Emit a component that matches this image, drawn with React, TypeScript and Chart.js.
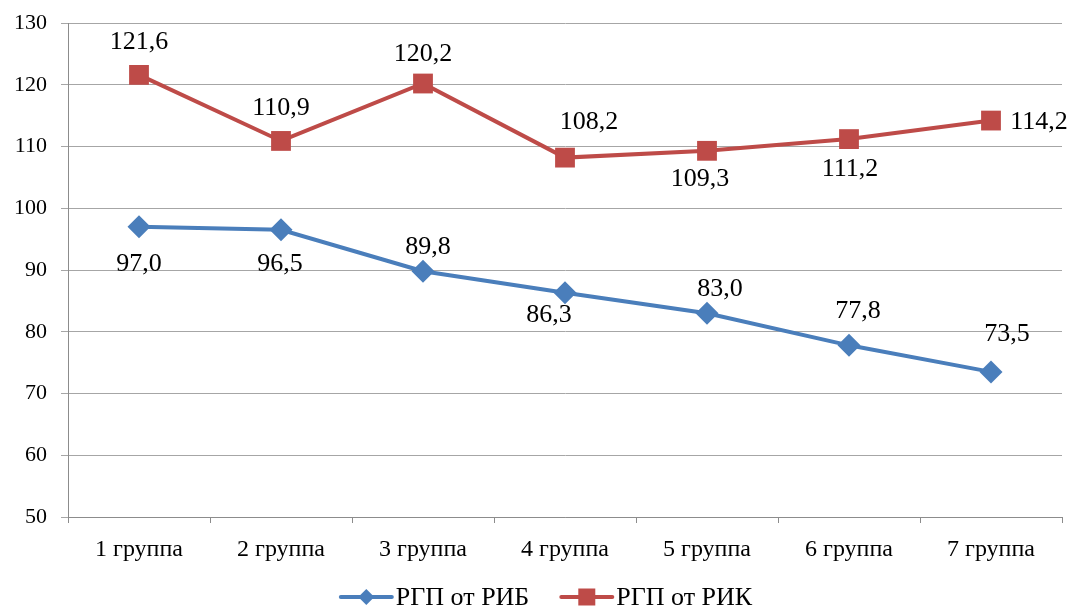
import React, { useEffect, useRef } from "react";
import { Chart, registerables } from "chart.js";

Chart.register(...registerables);

const categories = ["1 группа", "2 группа", "3 группа", "4 группа", "5 группа", "6 группа", "7 группа"];
const seriesNames = ["РГП от РИБ", "РГП от РИК"];
const ribValues = [97.0, 96.5, 89.8, 86.3, 83.0, 77.8, 73.5];
const rikValues = [121.6, 110.9, 120.2, 108.2, 109.3, 111.2, 114.2];
const yTicks = [50, 60, 70, 80, 90, 100, 110, 120, 130];

// label placement offsets (dx, dy in px from point centre)
const ribLabelOffsets = [[0, 37], [-1, 34], [5, -24], [-16, 22], [13, -24], [9, -34], [16, -38]];
const rikLabelOffsets = [[0, -33], [0, -33], [0, -29], [24, -35], [-7, 28], [1, 30], [48, 2]];

const BLUE = "#4A7EBB";
const RED = "#BE4B48";
const FONT = "'Liberation Serif', 'Times New Roman', serif";

const fmt = (v: number) => v.toFixed(1).replace(".", ",");

const labelPlugin = {
  id: "valueLabels",
  afterDatasetsDraw(chart: any) {
    const ctx = chart.ctx;
    ctx.save();
    ctx.font = `26px ${FONT}`;
    ctx.fillStyle = "#000";
    ctx.textAlign = "center";
    ctx.textBaseline = "middle";
    chart.data.datasets.forEach((ds: any, di: number) => {
      const meta = chart.getDatasetMeta(di);
      const offs = di === 0 ? ribLabelOffsets : rikLabelOffsets;
      meta.data.forEach((pt: any, i: number) => {
        const [dx, dy] = offs[i];
        ctx.fillText(fmt(ds.data[i]), pt.x + dx, pt.y + dy);
      });
    });
    ctx.restore();
  },
};

const legendPlugin = {
  id: "customLegend",
  afterDraw(chart: any) {
    const ctx = chart.ctx;
    ctx.save();
    ctx.font = `26px ${FONT}`;
    const lineW = 51;
    const gapText = 4;
    const gapItems = 32;
    const widths = seriesNames.map((n) => ctx.measureText(n).width);
    const total = widths.reduce((a, b) => a + b, 0) + seriesNames.length * (lineW + gapText) + gapItems * (seriesNames.length - 1);
    let x = chart.width / 2 + 12 - total / 2;
    const y = 597;
    seriesNames.forEach((name, i) => {
      const color = i === 0 ? BLUE : RED;
      ctx.strokeStyle = color;
      ctx.lineWidth = 4;
      ctx.lineCap = "round";
      ctx.beginPath();
      ctx.moveTo(x, y);
      ctx.lineTo(x + lineW, y);
      ctx.stroke();
      ctx.fillStyle = color;
      const cx = x + lineW / 2;
      ctx.beginPath();
      if (i === 0) {
        const r = 8;
        ctx.moveTo(cx, y - r);
        ctx.lineTo(cx + r, y);
        ctx.lineTo(cx, y + r);
        ctx.lineTo(cx - r, y);
        ctx.closePath();
      } else {
        ctx.rect(cx - 8.5, y - 8.5, 17, 17);
      }
      ctx.fill();
      ctx.fillStyle = "#000";
      ctx.textAlign = "left";
      ctx.textBaseline = "middle";
      ctx.fillText(name, x + lineW + gapText, y + 1);
      x += lineW + gapText + widths[i] + gapItems;
    });
    ctx.restore();
  },
};

export default function App() {
  const ref = useRef<HTMLCanvasElement | null>(null);
  useEffect(() => {
    document.body.style.margin = "0";
    const chart = new Chart(ref.current as HTMLCanvasElement, {
      type: "line",
      data: {
        labels: categories,
        datasets: [
          {
            label: seriesNames[0],
            data: ribValues,
            borderColor: BLUE,
            backgroundColor: BLUE,
            borderWidth: 4,
            pointStyle: "rectRot",
            pointRadius: 11.5,
            pointBorderWidth: 0,
            tension: 0,
          },
          {
            label: seriesNames[1],
            data: rikValues,
            borderColor: RED,
            backgroundColor: RED,
            borderWidth: 4,
            pointStyle: "rect",
            pointRadius: 14,
            pointBorderWidth: 0,
            tension: 0,
          },
        ],
      },
      options: {
        responsive: true,
        maintainAspectRatio: false,
        animation: false,
        layout: { autoPadding: false, padding: { top: 23, right: 7, bottom: 0, left: 0 } },
        plugins: { legend: { display: false }, tooltip: { enabled: false } },
        scales: {
          x: {
            offset: true,
            grid: { offset: true, drawOnChartArea: false, drawTicks: true, tickLength: 6, color: "#8c8c8c" },
            border: { display: true, color: "#8c8c8c", width: 1 },
            ticks: { font: { family: FONT, size: 24 }, color: "#000", padding: 12, maxRotation: 0 },
            afterFit: (s: any) => { s.height = 93; s.paddingLeft = 0; s.paddingRight = 0; },
          },
          y: {
            min: 50,
            max: 130,
            afterBuildTicks: (s: any) => { s.ticks = yTicks.map((v) => ({ value: v })); },
            grid: { color: "#a6a6a6", tickLength: 7, drawTicks: true },
            border: { display: true, color: "#8c8c8c", width: 1 },
            ticks: { font: { family: FONT, size: 22 }, color: "#000", padding: 14 },
            afterFit: (s: any) => { s.width = 68; s.paddingTop = 0; s.paddingBottom = 0; },
          },
        },
      },
      plugins: [labelPlugin, legendPlugin],
    });
    return () => chart.destroy();
  }, []);
  return (
    <div style={{ position: "fixed", left: 0, top: 0, width: 1069, height: 610, background: "#fff" }}>
      <canvas ref={ref} />
    </div>
  );
}
